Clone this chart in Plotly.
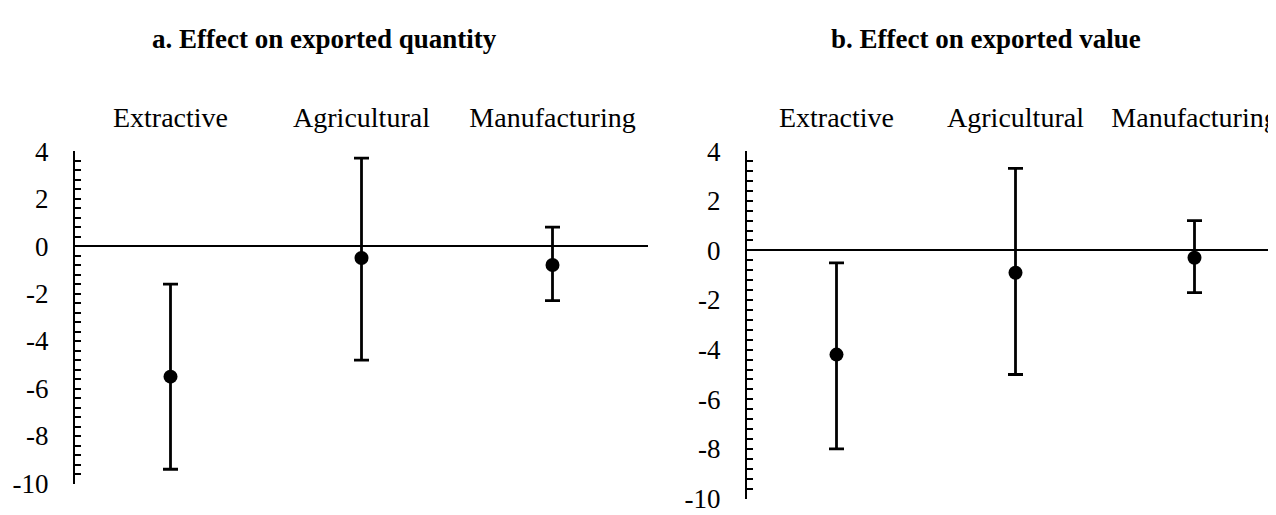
import plotly.graph_objects as go

categories = ["Extractive", "Agricultural", "Manufacturing"]

# Panel a: effect on exported quantity
qty_est = [-5.5, -0.5, -0.8]
qty_lo = [-9.4, -4.8, -2.3]
qty_hi = [-1.6, 3.7, 0.8]

# Panel b: effect on exported value
val_est = [-4.2, -0.9, -0.3]
val_lo = [-8.0, -5.0, -1.7]
val_hi = [-0.5, 3.3, 1.2]

y_ticks = [4, 2, 0, -2, -4, -6, -8, -10]
titles = ["a. Effect on exported quantity", "b. Effect on exported value"]

W, H = 1276, 515
FONT = "Liberation Serif, Times New Roman, serif"

fig = go.Figure()

def add_panel(est, lo, hi, xa, ya):
    fig.add_trace(go.Scatter(
        x=categories, y=est, mode="markers",
        marker=dict(size=14, color="black"),
        error_y=dict(type="data", symmetric=False,
                     array=[h - e for h, e in zip(hi, est)],
                     arrayminus=[e - l for e, l in zip(est, lo)],
                     thickness=2.8, width=7.5, color="black"),
        xaxis=xa, yaxis=ya, showlegend=False, hoverinfo="skip"))

add_panel(qty_est, qty_lo, qty_hi, "x", "y")
add_panel(val_est, val_lo, val_hi, "x2", "y2")

def xax(domain, anchor):
    return dict(domain=domain, anchor=anchor, type="category",
                range=[-0.5, 2.5], side="top", showline=False,
                showgrid=False, zeroline=False, ticks="",
                tickfont=dict(family=FONT, size=28, color="black"),
                ticklabelstandoff=17)

def yax(domain, anchor):
    return dict(domain=domain, anchor=anchor, range=[-10, 4],
                tickmode="array", tickvals=y_ticks,
                ticktext=[str(v) for v in y_ticks],
                ticks="inside", ticklen=6, tickwidth=2, tickcolor="black",
                showline=True, linewidth=2, linecolor="black",
                showgrid=False, zeroline=True, zerolinecolor="black",
                zerolinewidth=1.5,
                minor=dict(tick0=0, dtick=0.4, ticks="inside", ticklen=6,
                           tickwidth=2, tickcolor="black", showgrid=False),
                tickfont=dict(family=FONT, size=27, color="black"),
                ticklabelstandoff=19)

fig.update_layout(
    width=W, height=H, autosize=False,
    margin=dict(l=0, r=0, t=0, b=0),
    paper_bgcolor="white", plot_bgcolor="white",
    xaxis=xax([67 / W, 640 / W], "y"),
    yaxis=yax([1 - 489 / H, 1 - 136 / H], "x"),
    xaxis2=xax([739 / W, 1.0], "y2"),
    yaxis2=yax([1 - 505 / H, 1 - 136 / H], "x2"),
    annotations=[
        dict(text="<b>%s</b>" % titles[0], x=316 / W, y=1 - 17 / H,
             xref="paper", yref="paper", xanchor="center", yanchor="middle",
             showarrow=False, font=dict(family=FONT, size=27, color="black")),
        dict(text="<b>%s</b>" % titles[1], x=978 / W, y=1 - 17 / H,
             xref="paper", yref="paper", xanchor="center", yanchor="middle",
             showarrow=False, font=dict(family=FONT, size=27, color="black")),
    ],
)

fig.write_html("out.html")
